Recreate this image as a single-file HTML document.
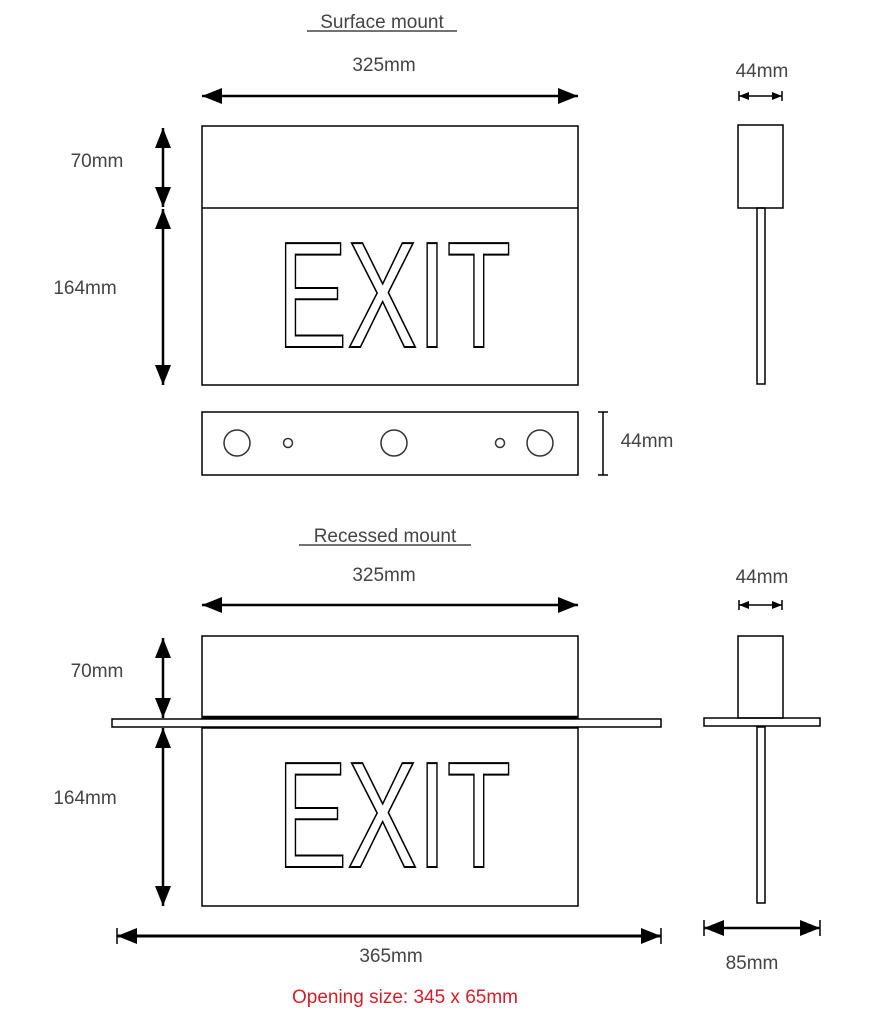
<!DOCTYPE html>
<html><head><meta charset="utf-8"><style>
html,body{margin:0;padding:0;background:#fff;width:880px;height:1024px;overflow:hidden}
svg{display:block}
text{font-family:"Liberation Sans",sans-serif;fill:#444;font-size:19px}
.ex{font-family:"Liberation Sans Narrow","Liberation Sans",sans-serif;fill:#fff;stroke:#000;stroke-width:2;font-size:151px}
</style></head><body>
<svg width="880" height="1024" viewBox="0 0 880 1024" xmlns="http://www.w3.org/2000/svg">
<defs>
<marker id="a" viewBox="0 0 20 16" refX="20" refY="8" markerWidth="20" markerHeight="16" markerUnits="userSpaceOnUse" orient="auto-start-reverse"><path d="M0,0L20,8L0,16z" fill="#000"/></marker>
<marker id="s" viewBox="0 0 10 8" refX="10" refY="4" markerWidth="10" markerHeight="8" markerUnits="userSpaceOnUse" orient="auto-start-reverse"><path d="M0,0L10,4L0,8z" fill="#000"/></marker>
</defs>
<g fill="none" stroke="#000" stroke-width="1.5">
<rect x="202" y="126" width="376" height="259"/>
<line x1="202" y1="208" x2="578" y2="208"/>
<rect x="202" y="412" width="376" height="63"/>
<circle cx="237" cy="443" r="13" stroke="#333"/>
<circle cx="288" cy="443" r="4.5" stroke="#333"/>
<circle cx="394" cy="443" r="13" stroke="#333"/>
<circle cx="500" cy="443" r="4.5" stroke="#333"/>
<circle cx="540" cy="443" r="13" stroke="#333"/>
<rect x="738" y="125" width="45" height="83"/>
<rect x="757" y="208" width="8" height="176"/>
<rect x="202" y="636" width="376" height="82"/>
<rect x="112" y="719" width="549" height="8"/>
<rect x="202" y="728" width="376" height="178"/>
<rect x="738" y="636" width="45" height="82"/>
<rect x="704" y="718" width="116" height="8"/>
<rect x="757" y="727" width="8" height="176"/>
<line x1="202" y1="717" x2="578" y2="717" stroke-width="2.5"/>
</g>
<g stroke="#000" stroke-width="2.5">
<line x1="202" y1="96" x2="578" y2="96" marker-start="url(#a)" marker-end="url(#a)"/>
<line x1="163" y1="128" x2="163" y2="207" marker-start="url(#a)" marker-end="url(#a)"/>
<line x1="163" y1="209" x2="163" y2="385" marker-start="url(#a)" marker-end="url(#a)"/>
<line x1="202" y1="605" x2="578" y2="605" marker-start="url(#a)" marker-end="url(#a)"/>
<line x1="163" y1="638" x2="163" y2="718" marker-start="url(#a)" marker-end="url(#a)"/>
<line x1="163" y1="728" x2="163" y2="906" marker-start="url(#a)" marker-end="url(#a)"/>
<line x1="117" y1="936" x2="661" y2="936" stroke-width="3" marker-start="url(#a)" marker-end="url(#a)"/>
<line x1="704" y1="928" x2="820" y2="928" marker-start="url(#a)" marker-end="url(#a)"/>
</g>
<g stroke="#000" stroke-width="1.5">
<line x1="739" y1="96" x2="782" y2="96" marker-start="url(#s)" marker-end="url(#s)"/>
<line x1="739" y1="605" x2="782" y2="605" marker-start="url(#s)" marker-end="url(#s)"/>
<line x1="603" y1="412" x2="603" y2="475"/>
<line x1="598" y1="412" x2="608" y2="412"/><line x1="598" y1="475" x2="608" y2="475"/>
<line x1="739" y1="91" x2="739" y2="101"/><line x1="782" y1="91" x2="782" y2="101"/>
<line x1="739" y1="600" x2="739" y2="610"/><line x1="782" y1="600" x2="782" y2="610"/>
<line x1="117" y1="928" x2="117" y2="944"/><line x1="661" y1="928" x2="661" y2="944"/>
<line x1="704" y1="920" x2="704" y2="936"/><line x1="820" y1="920" x2="820" y2="936"/>
</g>
<text class="ex" x="277" y="347" textLength="234" lengthAdjust="spacingAndGlyphs">EXIT</text>
<text class="ex" x="277" y="867" textLength="234" lengthAdjust="spacingAndGlyphs">EXIT</text>
<text x="382" y="28" text-anchor="middle">Surface mount</text>
<line x1="307" y1="31" x2="457" y2="31" stroke="#444" stroke-width="1.5"/>
<text x="384" y="71" text-anchor="middle">325mm</text>
<text x="762" y="77" text-anchor="middle">44mm</text>
<text x="97" y="167" text-anchor="middle">70mm</text>
<text x="85" y="294" text-anchor="middle">164mm</text>
<text x="647" y="447" text-anchor="middle">44mm</text>
<text x="385" y="542" text-anchor="middle">Recessed mount</text>
<line x1="299" y1="545" x2="471" y2="545" stroke="#444" stroke-width="1.5"/>
<text x="384" y="581" text-anchor="middle">325mm</text>
<text x="762" y="583" text-anchor="middle">44mm</text>
<text x="97" y="677" text-anchor="middle">70mm</text>
<text x="85" y="804" text-anchor="middle">164mm</text>
<text x="391" y="962" text-anchor="middle">365mm</text>
<text x="752" y="969" text-anchor="middle">85mm</text>
<text x="405" y="1003" text-anchor="middle" style="fill:#d0202a">Opening size: 345 x 65mm</text>
</svg>
</body></html>
